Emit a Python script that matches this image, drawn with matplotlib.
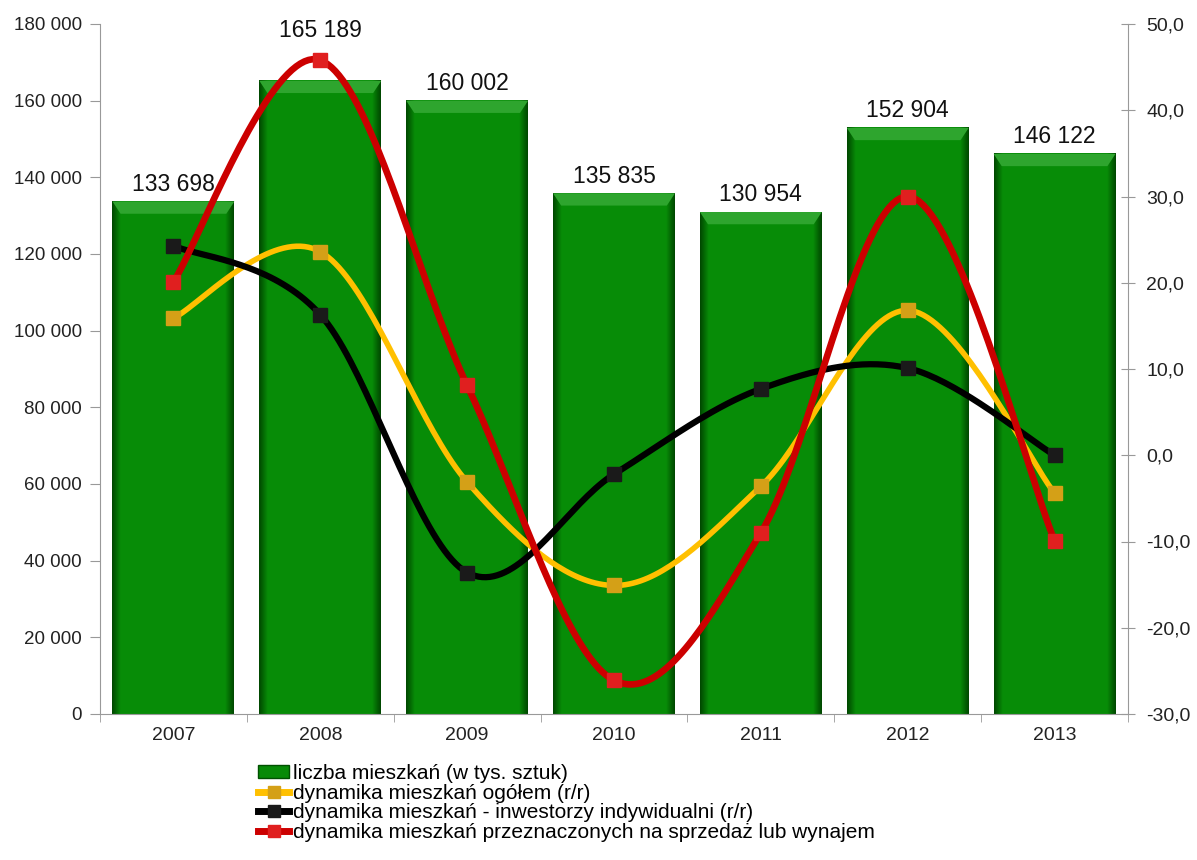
import numpy as np
import matplotlib
matplotlib.use("Agg")
import matplotlib.pyplot as plt
from matplotlib.patches import Polygon
from matplotlib.lines import Line2D
from matplotlib.patches import Patch

plt.rcParams['font.family'] = ['Liberation Sans', 'DejaVu Sans']

years = ['2007', '2008', '2009', '2010', '2011', '2012', '2013']
flats = [133698, 165189, 160002, 135835, 130954, 152904, 146122]
dyn_total = [15.9, 23.6, -3.1, -15.1, -3.6, 16.8, -4.4]
dyn_indiv = [24.3, 16.3, -13.6, -2.2, 7.7, 10.1, 0.0]
dyn_sale = [20.1, 45.8, 8.1, -26.1, -9.0, 30.0, -9.9]

labels = ['liczba mieszkań (w tys. sztuk)',
          'dynamika mieszkań ogółem (r/r)',
          'dynamika mieszkań - inwestorzy indywidualni (r/r)',
          'dynamika mieszkań przeznaczonych na sprzedaż lub wynajem']

# extra upward offset (points) for data labels that would collide with markers
label_lift = {1: 24}


def fmt_thousands(v):
    return f"{int(round(v)):,}".replace(',', ' ')


def smooth(xs, ys, n=40):
    xs = np.asarray(xs, float)
    ys = np.asarray(ys, float)
    P = np.column_stack([xs, ys])
    out = []
    m = len(P)
    for i in range(m - 1):
        p0 = P[i - 1] if i > 0 else P[i]
        p1 = P[i]
        p2 = P[i + 1]
        p3 = P[i + 2] if i + 2 < m else P[i + 1]
        c1 = p1 + (p2 - p0) / 6.0
        c2 = p2 - (p3 - p1) / 6.0
        t = np.linspace(0, 1, n)[:, None]
        seg = ((1 - t) ** 3) * p1 + 3 * ((1 - t) ** 2) * t * c1 + 3 * (1 - t) * t ** 2 * c2 + t ** 3 * p2
        if i > 0:
            seg = seg[1:]
        out.append(seg)
    out = np.vstack(out)
    return out[:, 0], out[:, 1]


fig = plt.figure(figsize=(11.97, 8.60), dpi=100)
ax = fig.add_axes([100 / 1197, 1 - 714 / 860, 1028 / 1197, 690 / 860])
ax2 = ax.twinx()

x = np.arange(len(years))
bw = 0.83

# bars with gradient + bevel
prof = np.linspace(0, 1, 200)
shade = np.clip(np.minimum(prof, 1 - prof) / 0.07, 0, 1)
dark = np.array([0.0, 0.28, 0.0])
mid = np.array([0.03, 0.55, 0.03])
row = dark[None, :] * (1 - shade[:, None]) + mid[None, :] * shade[:, None]
img = row[None, :, :]
bars = ax.bar(x, flats, width=bw, color='#078a07', edgecolor='none', zorder=1)
for i, (b, v) in enumerate(zip(bars, flats)):
    x0 = b.get_x()
    x1 = x0 + b.get_width()
    ax.imshow(img, extent=(x0, x1, 0, v), aspect='auto', zorder=1.5, interpolation='bilinear')
    bev = 3200
    dx = 0.055
    poly = Polygon([[x0, v], [x1, v], [x1 - dx, v - bev], [x0 + dx, v - bev]],
                   closed=True, facecolor='#2ea52e', edgecolor='none', zorder=1.6)
    ax.add_patch(poly)
    ax.annotate(fmt_thousands(v), (b.get_x() + b.get_width() / 2, v),
                xytext=(0, 4 + label_lift.get(i, 0)),
                textcoords='offset points', ha='center', va='bottom', fontsize=16.5, color='#111111')
ax.set_xlim(-0.5, len(years) - 0.5)
ax.set_ylim(0, 180000)
ax2.set_ylim(-30, 50)

series = [
    (dyn_total, '#ffc000', '#d4a017', 4.0),
    (dyn_indiv, '#000000', '#1a1a1a', 4.5),
    (dyn_sale, '#cc0000', '#e01f1f', 4.8),
]
for vals, lc, mc, lw in series:
    sx, sy = smooth(x, vals)
    ax2.plot(sx, sy, color=lc, lw=lw, solid_capstyle='round', zorder=3)
    ax2.plot(x, vals, linestyle='none', marker='s', markersize=10, markerfacecolor=mc,
             markeredgecolor=mc, zorder=4)

ax.set_yticks(np.arange(0, 180001, 20000))
ax.set_yticklabels([fmt_thousands(v) for v in np.arange(0, 180001, 20000)])
ax2.set_yticks(np.arange(-30, 51, 10))
ax2.set_yticklabels([f"{v:.1f}".replace('.', ',') for v in np.arange(-30, 51, 10)])

ax.set_xticks(x)
ax.set_xticklabels(years)
ax.set_xticks(np.arange(-0.5, len(years), 1), minor=True)
ax.tick_params(axis='x', which='major', length=0, pad=9, labelsize=14, labelcolor='#222222')
ax.tick_params(axis='x', which='minor', length=6, direction='out', color='#999999')
ax.tick_params(axis='y', length=7, direction='out', color='#999999', labelsize=13.5, labelcolor='#222222', pad=6)
ax2.tick_params(axis='y', length=10, direction='inout', color='#999999', labelsize=14, labelcolor='#222222', pad=8)

for a in (ax, ax2):
    a.spines['top'].set_visible(False)
    for s in ('left', 'right', 'bottom'):
        a.spines[s].set_color('#999999')
ax2.spines['left'].set_visible(False)
ax.spines['right'].set_visible(False)
ax2.spines['bottom'].set_visible(False)

handles = [Patch(facecolor='#078a07', edgecolor='#005000'),
           Line2D([], [], color='#ffc000', lw=5, marker='s', markersize=9, markerfacecolor='#d4a017', markeredgecolor='#d4a017'),
           Line2D([], [], color='#000000', lw=5, marker='s', markersize=9, markerfacecolor='#1a1a1a', markeredgecolor='#1a1a1a'),
           Line2D([], [], color='#cc0000', lw=5, marker='s', markersize=9, markerfacecolor='#e01f1f', markeredgecolor='#e01f1f')]
fig.legend(handles, labels, loc='upper left', bbox_to_anchor=(258 / 1197, 1 - 764 / 860),
           frameon=False, fontsize=15, handlelength=1.5, handletextpad=0.2,
           labelspacing=0.03, borderaxespad=0, borderpad=0, handleheight=0.6)

fig.savefig('out.png', dpi=100)
